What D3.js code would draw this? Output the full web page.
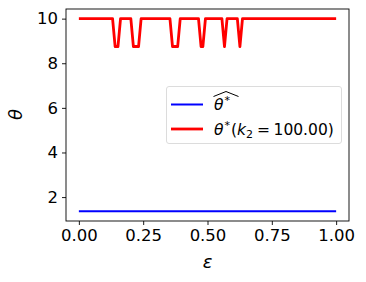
<!DOCTYPE html>
<html>
<head>
<meta charset="utf-8">
<script src="https://cdn.jsdelivr.net/npm/d3@7"></script>
<style>
  body { margin: 0; background: #fff; }
  text { font-family: "DejaVu Sans", sans-serif; }
</style>
</head>
<body>
<div id="chart"></div>
<script>
// chart size
var width = 366, height = 282;
var margin = {top: 9, right: 17, bottom: 61, left: 66};

// data
var xTicks = [0, 0.25, 0.5, 0.75, 1.0];
var yTicks = [2, 4, 6, 8, 10];
var hatEps = [0, 1];
var hatTheta = [1.36, 1.36];
// vertices of the red polyline
var starEps = [0, 0.131, 0.141, 0.152, 0.162, 0.202, 0.212, 0.232, 0.242, 0.354, 0.364, 0.384, 0.394,
  0.465, 0.475, 0.482, 0.492, 0.556, 0.566, 0.576, 0.616, 0.626, 0.636, 1.0];
var starTheta = [10, 10, 8.75, 8.75, 10, 10, 8.75, 8.75, 10, 10, 8.75, 8.75, 10,
  10, 8.75, 8.75, 10, 10, 8.75, 10, 10, 8.75, 10, 10];

var svg = d3.select("#chart").append("svg")
  .attr("width", width)
  .attr("height", height);

var x = d3.scaleLinear().domain([-0.05, 1.05]).range([margin.left, width - margin.right]);
var y = d3.scaleLinear().domain([0.928, 10.432]).range([height - margin.bottom, margin.top]);

var line = d3.line().x(d => x(d[0])).y(d => y(d[1]));

// blue line
svg.append("path")
  .datum(d3.zip(hatEps, hatTheta))
  .attr("d", line)
  .attr("fill", "none")
  .attr("stroke", "#0000ff")
  .attr("stroke-width", 2);

// red line
svg.append("path")
  .datum(d3.zip(starEps, starTheta))
  .attr("d", line)
  .attr("fill", "none")
  .attr("stroke", "#ff0000")
  .attr("stroke-width", 2.8)
  .attr("stroke-linejoin", "round");

// frame
svg.append("rect")
  .attr("x", margin.left).attr("y", margin.top)
  .attr("width", width - margin.left - margin.right)
  .attr("height", height - margin.top - margin.bottom)
  .attr("fill", "none").attr("stroke", "#000").attr("stroke-width", 0.9);

// axes
var xAxis = svg.append("g")
  .attr("transform", "translate(0," + (height - margin.bottom) + ")")
  .call(d3.axisBottom(x).tickValues(xTicks).tickFormat(d3.format(".2f")).tickSize(4).tickPadding(4));
var yAxis = svg.append("g")
  .attr("transform", "translate(" + margin.left + ",0)")
  .call(d3.axisLeft(y).tickValues(yTicks).tickFormat(d3.format("d")).tickSize(4).tickPadding(4));
[xAxis, yAxis].forEach(function(a) {
  a.select(".domain").remove();
  a.selectAll("line").attr("stroke", "#000").attr("stroke-width", 0.9);
  a.selectAll("text").attr("font-size", 16.5).attr("fill", "#000")
    .style("font-family", "DejaVu Sans");
});

// axis labels
svg.append("text")
  .attr("x", x(0.5)).attr("y", 268)
  .attr("text-anchor", "middle")
  .attr("font-size", 18).attr("font-style", "italic")
  .text("ε");
svg.append("text")
  .attr("transform", "translate(22," + y(5.7) + ") rotate(-90)")
  .attr("text-anchor", "middle")
  .attr("font-size", 18).attr("font-style", "italic")
  .text("θ");

// legend
var lg = svg.append("g");
lg.append("rect")
  .attr("x", 166.5).attr("y", 86.5).attr("width", 175).attr("height", 57)
  .attr("rx", 2.5)
  .attr("fill", "#fff").attr("fill-opacity", 0.8)
  .attr("stroke", "#d8d8d8").attr("stroke-width", 0.9);

lg.append("line").attr("x1", 171).attr("x2", 203).attr("y1", 104.5).attr("y2", 104.5)
  .attr("stroke", "#0000ff").attr("stroke-width", 2);
lg.append("line").attr("x1", 171).attr("x2", 203).attr("y1", 129).attr("y2", 129)
  .attr("stroke", "#ff0000").attr("stroke-width", 2.8);

// first entry: widehat theta star
var t1 = lg.append("text").attr("x", 214).attr("y", 110).attr("font-size", 15.5);
t1.append("tspan").attr("font-style", "italic").text("θ");
t1.append("tspan").attr("dx", 1).attr("dy", -6).attr("font-size", 11).text("*");
lg.append("path")
  .attr("d", "M213.5,96.5 L226,91.5 L238.5,96.5")
  .attr("fill", "none").attr("stroke", "#000").attr("stroke-width", 1);

// second entry
var t2 = lg.append("text").attr("x", 214).attr("y", 134.5).attr("font-size", 15.5);
t2.append("tspan").attr("font-style", "italic").text("θ");
t2.append("tspan").attr("dx", 1).attr("dy", -6).attr("font-size", 11).text("*");
t2.append("tspan").attr("dx", 1).attr("dy", 6).text("(");
t2.append("tspan").attr("font-style", "italic").text("k");
t2.append("tspan").attr("dy", 3).attr("font-size", 11).text("2");
t2.append("tspan").attr("dy", -3).attr("dx", 4).text("=");
t2.append("tspan").attr("dx", 3.5).text("100.00)");
</script>
</body>
</html>
